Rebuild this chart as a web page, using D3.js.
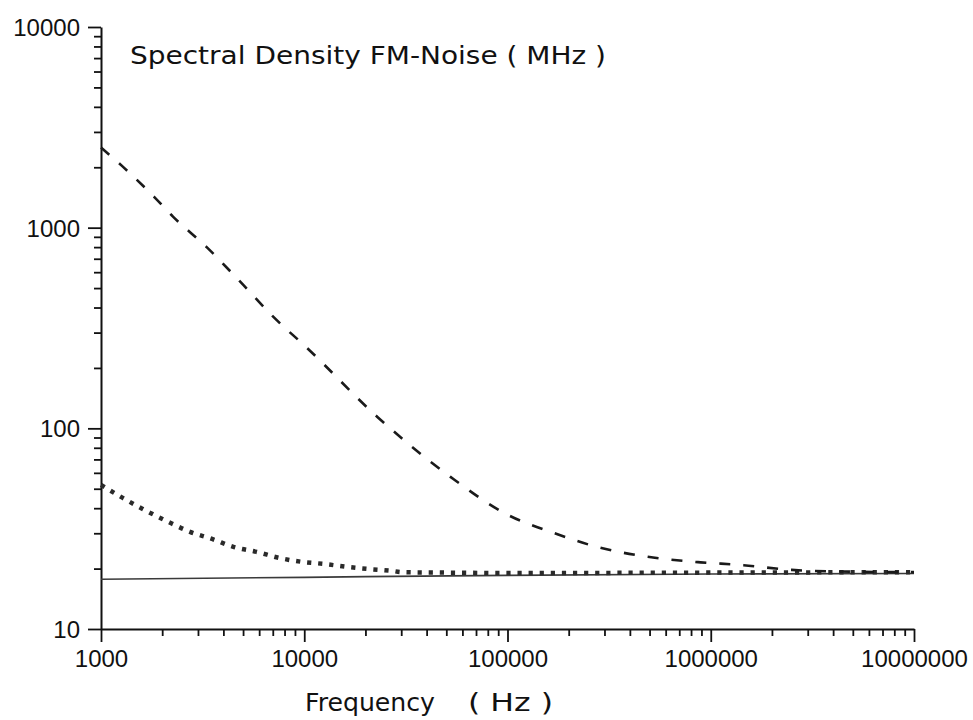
<!DOCTYPE html>
<html>
<head>
<meta charset="utf-8">
<script src="https://cdn.jsdelivr.net/npm/d3@7"></script>
<style>
  html, body { margin: 0; padding: 0; background: #fff; }
  svg { display: block; }
</style>
</head>
<body>
<svg id="chart" width="973" height="720"></svg>
<script>
// Frequency axis decades (Hz) and spectral density decades (MHz)
const xTickValues = [1000, 10000, 100000, 1000000, 10000000];
const yTickValues = [10, 100, 1000, 10000];

// Upper curve (dashed): strong 1/f contribution
const dashedFreq = [1000, 1280, 1840, 2260, 3330, 4840, 7030, 10300, 22900, 52400,
                    100000, 169000, 286000, 490000, 840000, 1450000, 2500000, 5000000, 10000000];
const dashedValues = [2507, 2014, 1412, 1135, 795, 538, 360, 252, 114, 57.3,
                      37.1, 30.1, 25.4, 22.9, 21.6, 20.8, 19.7, 19.3, 19.2];

// Middle curve (dotted)
const dottedFreq = [1000, 1280, 1670, 2140, 2740, 3520, 4520, 5860, 7540, 9770,
                    12500, 16200, 20800, 26800, 30300, 50000, 100000, 1000000, 10000000];
const dottedValues = [52.2, 45.0, 38.8, 34.2, 30.5, 28.1, 25.6, 24.2, 22.6, 21.6,
                      21.1, 20.4, 19.9, 19.5, 19.2, 19.1, 19.0, 19.1, 19.2];

// Lower curve (solid): white-noise floor
const solidFreq = [1000, 10000, 100000, 1000000, 10000000];
const solidValues = [17.7, 18.1, 18.5, 18.8, 18.9];

const titleText = "Spectral Density FM-Noise ( MHz )";
const xLabelText = "Frequency";
const xUnitText = "( Hz )";

const svg = d3.select("#chart");

const x = d3.scaleLog().domain([1000, 10000000]).range([101, 914]);
const y = d3.scaleLog().domain([10, 10000]).range([629, 27]);

// minor ticks 2..9 within each decade
function minors(domainTicks) {
  const out = [];
  for (let i = 0; i < domainTicks.length - 1; i++) {
    for (let k = 2; k <= 9; k++) out.push(domainTicks[i] * k);
  }
  return out;
}

const ink = "#111";

// ---- Y axis ----
const gy = svg.append("g").attr("transform", `translate(${x.range()[0]},0)`);
gy.call(d3.axisLeft(y).tickValues(yTickValues).tickSize(13).tickSizeOuter(0)
  .tickPadding(8).tickFormat(d3.format("d")));
gy.append("g").call(d3.axisLeft(y).tickValues(minors(yTickValues)).tickSize(7)
  .tickSizeOuter(0).tickFormat(""))
  .select(".domain").remove();

// ---- X axis ----
const gx = svg.append("g").attr("transform", `translate(0,${y.range()[0]})`);
gx.call(d3.axisBottom(x).tickValues(xTickValues).tickSize(13).tickSizeOuter(0)
  .tickFormat(d3.format("d")));
gx.append("g").call(d3.axisBottom(x).tickValues(minors(xTickValues)).tickSize(7)
  .tickSizeOuter(0).tickFormat(""))
  .select(".domain").remove();

svg.selectAll(".domain").attr("stroke", ink).attr("stroke-width", 2);
svg.selectAll(".tick line").attr("stroke", ink).attr("stroke-width", 1.8);

gy.selectAll(".tick text")
  .attr("x", -21)
  .attr("dy", "0.36em")
  .style("font-family", "'Liberation Sans', Arial, sans-serif")
  .style("font-size", "24px")
  .attr("fill", ink);

gx.selectAll(".tick text")
  .attr("y", 38)
  .attr("dy", null)
  .style("font-family", "'Liberation Sans', Arial, sans-serif")
  .style("font-size", "24px")
  .attr("fill", ink);

// ---- Curves ----
const line = d3.line()
  .x(d => x(d[0]))
  .y(d => y(d[1]))
  .curve(d3.curveMonotoneX);

svg.append("path")
  .datum(solidFreq.map((f, i) => [f, solidValues[i]]))
  .attr("d", line)
  .attr("fill", "none")
  .attr("stroke", "#3a3a3a")
  .attr("stroke-width", 1.7);

svg.append("path")
  .datum(dottedFreq.map((f, i) => [f, dottedValues[i]]))
  .attr("d", line)
  .attr("fill", "none")
  .attr("stroke", "#2a2a2a")
  .attr("stroke-width", 4.5)
  .attr("stroke-dasharray", "4.2,6.9");

svg.append("path")
  .datum(dashedFreq.map((f, i) => [f, dashedValues[i]]))
  .attr("d", line)
  .attr("fill", "none")
  .attr("stroke", "#1a1a1a")
  .attr("stroke-width", 2.6)
  .attr("stroke-dasharray", "11,13");

// ---- Titles ----
const labelFont = "'DejaVu Sans', 'Noto Sans', sans-serif";

svg.append("text")
  .attr("x", 130).attr("y", 64)
  .attr("textLength", 476).attr("lengthAdjust", "spacingAndGlyphs")
  .style("font-family", labelFont).style("font-size", "24px")
  .attr("fill", ink)
  .text(titleText);

svg.append("text")
  .attr("x", 305).attr("y", 711)
  .attr("textLength", 130).attr("lengthAdjust", "spacingAndGlyphs")
  .style("font-family", labelFont).style("font-size", "24px")
  .attr("fill", ink)
  .text(xLabelText);

svg.append("text")
  .attr("x", 468).attr("y", 711)
  .attr("textLength", 85).attr("lengthAdjust", "spacingAndGlyphs")
  .style("font-family", labelFont).style("font-size", "24px")
  .attr("fill", ink)
  .text(xUnitText);
</script>
</body>
</html>
